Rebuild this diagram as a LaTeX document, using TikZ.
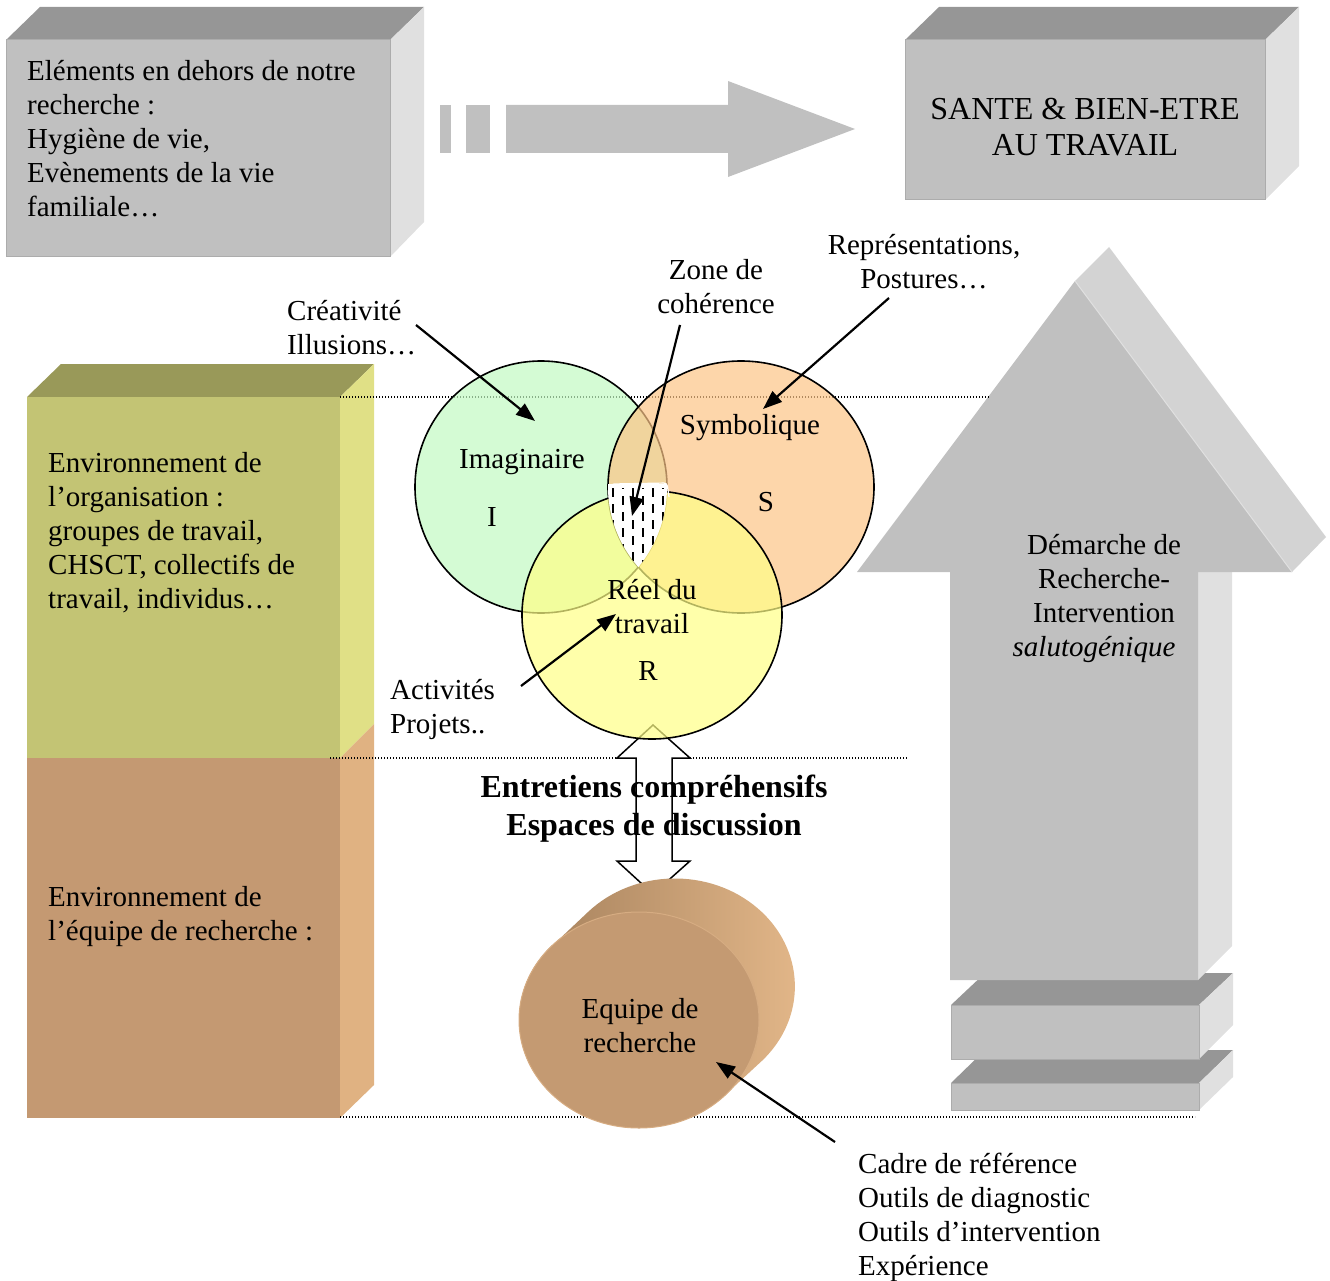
\documentclass[tikz,border=0pt]{standalone}
\usepackage{fontspec}
\setmainfont{Liberation Serif}
\usetikzlibrary{arrows.meta}
\definecolor{boxfront}{RGB}{192,192,192}
\definecolor{boxtop}{RGB}{150,150,150}
\definecolor{boxside}{RGB}{224,224,224}
\definecolor{boxrim}{RGB}{172,172,172}
\definecolor{headside}{RGB}{211,211,211}
\definecolor{orgfront}{RGB}{195,196,116}
\definecolor{orgtop}{RGB}{153,153,89}
\definecolor{orgside}{RGB}{224,224,134}
\definecolor{teamfront}{RGB}{196,153,114}
\definecolor{teamside}{RGB}{224,178,130}
\definecolor{imagfill}{RGB}{194,250,194}
\definecolor{symbfill}{RGB}{252,196,134}
\definecolor{reelfill}{RGB}{255,255,134}
\definecolor{cyldark}{RGB}{160,124,88}
\definecolor{cyllight}{RGB}{228,184,138}
\definecolor{cylfront}{RGB}{196,154,114}
\definecolor{cylrim}{RGB}{214,172,130}
\tikzset{
  front/.style={fill=boxfront,draw=boxrim,line width=1pt},
  top/.style={fill=boxtop},
  side/.style={fill=boxside},
  ring/.style={draw=black,line width=1.6pt,fill opacity=0.7},
  guide/.style={black,line width=1.2pt,dash pattern=on 1.2pt off 1.8pt},
  pointer/.style={-{Triangle[length=19pt,width=14pt]},line width=2.2pt},
  hatchdash/.style={black,line width=2.6pt,dash pattern=on 9pt off 7pt},
  txt/.style={inner sep=0pt,font=\fontsize{29}{34}\selectfont,align=left},
  ctxt/.style={txt,align=center},
}
\begin{document}
\begin{tikzpicture}[x=1pt,y=-1pt]
  \path[use as bounding box] (0,0) rectangle (1330,1281);

  % outside elements and target box
  \fill[top] (6,40) -- (40,7) -- (424,7) -- (390,40) -- cycle;
  \fill[side] (390,40) -- (424,7) -- (424,222) -- (390,257) -- cycle;
  \path[front] (6,40) rectangle (390,257);
  \fill[top] (905,40) -- (939,7) -- (1299,7) -- (1265,40) -- cycle;
  \fill[side] (1265,40) -- (1299,7) -- (1299,166) -- (1265,200) -- cycle;
  \path[front] (905,40) rectangle (1265,200);

  \fill[boxfront] (440,105) rectangle (451,153);
  \fill[boxfront] (466,105) rectangle (490,153);
  \fill[boxfront] (506,105) -- (728,105) -- (728,81) -- (855,129)
    -- (728,177) -- (728,153) -- (506,153) -- cycle;

  % environment columns
  \fill[orgtop] (27,397) -- (61,364) -- (374,364) -- (340,397) -- cycle;
  \fill[orgside] (340,397) -- (374,364) -- (374,724) -- (340,758) -- cycle;
  \fill[orgfront] (27,397) rectangle (340,758);
  \fill[teamside] (340,758) -- (374,724) -- (374,1085) -- (340,1118) -- cycle;
  \fill[teamfront] (27,758) rectangle (340,1118);

  % research arrow
  \fill[top] (951,1083) -- (985,1050) -- (1233,1050) -- (1199,1083) -- cycle;
  \fill[side] (1199,1083) -- (1233,1050) -- (1233,1077) -- (1199,1110) -- cycle;
  \path[front] (951,1083) rectangle (1199,1110);
  \fill[top] (951,1005) -- (985,973) -- (1233,973) -- (1199,1005) -- cycle;
  \fill[side] (1199,1005) -- (1233,973) -- (1233,1025) -- (1199,1059) -- cycle;
  \path[front] (951,1005) rectangle (1199,1059);
  \fill[side] (1198,572) -- (1232,572) -- (1232,946) -- (1198,980) -- cycle;
  \fill[boxfront] (1075,281) -- (1292,572) -- (1198,572) -- (1198,980)
    -- (950,980) -- (950,572) -- (857,572) -- cycle;
  \fill[headside] (1075,281) -- (1109,247) -- (1326,537) -- (1292,572) -- cycle;
  \draw[boxside,line width=1pt] (1075,281) -- (1292,572);

  % level lines
  \draw[guide] (340,397) -- (990,397);
  \draw[guide] (330,758) -- (907,758);
  \draw[guide] (340,1117) -- (1195,1117);

  % interviews
  \draw[fill=white,line width=1.5pt] (653,725) -- (690,758) -- (672,758) -- (672,861)
    -- (690,861) -- (653,894) -- (617,861) -- (636,861) -- (636,758) -- (617,758) -- cycle;

  % I S R
  \path[ring,fill=imagfill] (541,487) ellipse[x radius=126,y radius=126];
  \path[ring,fill=symbfill] (741,487) ellipse[x radius=133,y radius=126];
  \path[ring,fill=reelfill] (652,615) ellipse[x radius=130,y radius=124];

  \begin{scope}
    \clip (541,487) ellipse[x radius=126,y radius=126];
    \clip (741,487) ellipse[x radius=133,y radius=126];
    \fill[white] (600,484) rectangle (690,580);
    \foreach \hx in {613,633,653,673}
      \draw[hatchdash] (\hx,488) -- (\hx,580);
    \foreach \hx in {623,643,663}
      \draw[hatchdash,dash phase=8pt] (\hx,488) -- (\hx,580);
  \end{scope}
  \draw[white,line width=1.2pt,rounded corners=3pt] (609,497) -- (611,484) -- (667,483) -- (669,497);

  % research team
  \shade[left color=cyldark,right color=cyllight] (552,946) -- (588,912)
    arc[start angle=223.6,end angle=403.6,x radius=120,y radius=108] -- (726,1094)
    arc[start angle=43.6,end angle=223.6,x radius=120,y radius=108] -- cycle;
  \path[fill=cylfront,draw=cylrim,line width=1pt] (639,1020) ellipse[x radius=120,y radius=108];

  % texts
  \node[txt,anchor=west] (elems) at (27,138.5)
    {Eléments en dehors de notre\\recherche :\\Hygiène de vie,\\Evènements de la vie\\familiale…};
  \node[ctxt,font=\fontsize{32}{36}\selectfont] (sante) at (1085,127)
    {SANTE \& BIEN-ETRE\\AU TRAVAIL};
  \node[txt,anchor=west] (envorg) at (48,533)
    {Environnement de\\l’organisation :\\groupes de travail,\\CHSCT, collectifs de\\travail, individus…};
  \node[txt,anchor=west] (envequipe) at (48,917)
    {Environnement de\\l’équipe de recherche :};
  \node[txt,anchor=west] (crea) at (287,328) {Créativité\\Illusions…};
  \node[ctxt] (zone) at (716,286.5) {Zone de\\cohérence};
  \node[ctxt] (repr) at (924,262) {Représentations,\\Postures…};
  \node[txt,anchor=west] (activ) at (390,709) {Activités\\Projets..};
  \node[txt,anchor=west] (cadre) at (858,1217.5)
    {Cadre de référence\\Outils de diagnostic\\Outils d’intervention\\Expérience};
  \node[txt] (imag) at (522,462) {Imaginaire};
  \node[txt] (imagI) at (492,517) {I};
  \node[txt] (symb) at (750,428) {Symbolique};
  \node[txt] (symbS) at (766,502) {S};
  \node[ctxt] (reel) at (652,607) {Réel du\\travail};
  \node[txt] (reelR) at (648,671) {R};
  \node[ctxt,font=\bfseries\fontsize{32}{38}\selectfont] (entretiens) at (654,809)
    {Entretiens compréhensifs\\Espaces de discussion};
  \node[ctxt] (equipe) at (640,1026) {Equipe de\\recherche};
  \node[ctxt] (demarche) at (1104,598)
    {Démarche de\\Recherche-\\Intervention\\\textit{salutogénique}\hspace*{20pt}};

  % pointers
  \coordinate (creaTail) at (416,325);   \coordinate (creaTip) at (535,421);
  \coordinate (zoneTail) at (680,325);   \coordinate (zoneTip) at (632,516);
  \coordinate (reprTail) at (889,298);   \coordinate (reprTip) at (763,409);
  \coordinate (activTail) at (521,686);  \coordinate (activTip) at (616,614);
  \coordinate (cadreTail) at (835,1142); \coordinate (cadreTip) at (716,1062);
  \draw[pointer] (creaTail) -- (creaTip);
  \draw[pointer] (zoneTail) -- (zoneTip);
  \draw[pointer] (reprTail) -- (reprTip);
  \draw[pointer] (activTail) -- (activTip);
  \draw[pointer] (cadreTail) -- (cadreTip);
\end{tikzpicture}
\end{document}
